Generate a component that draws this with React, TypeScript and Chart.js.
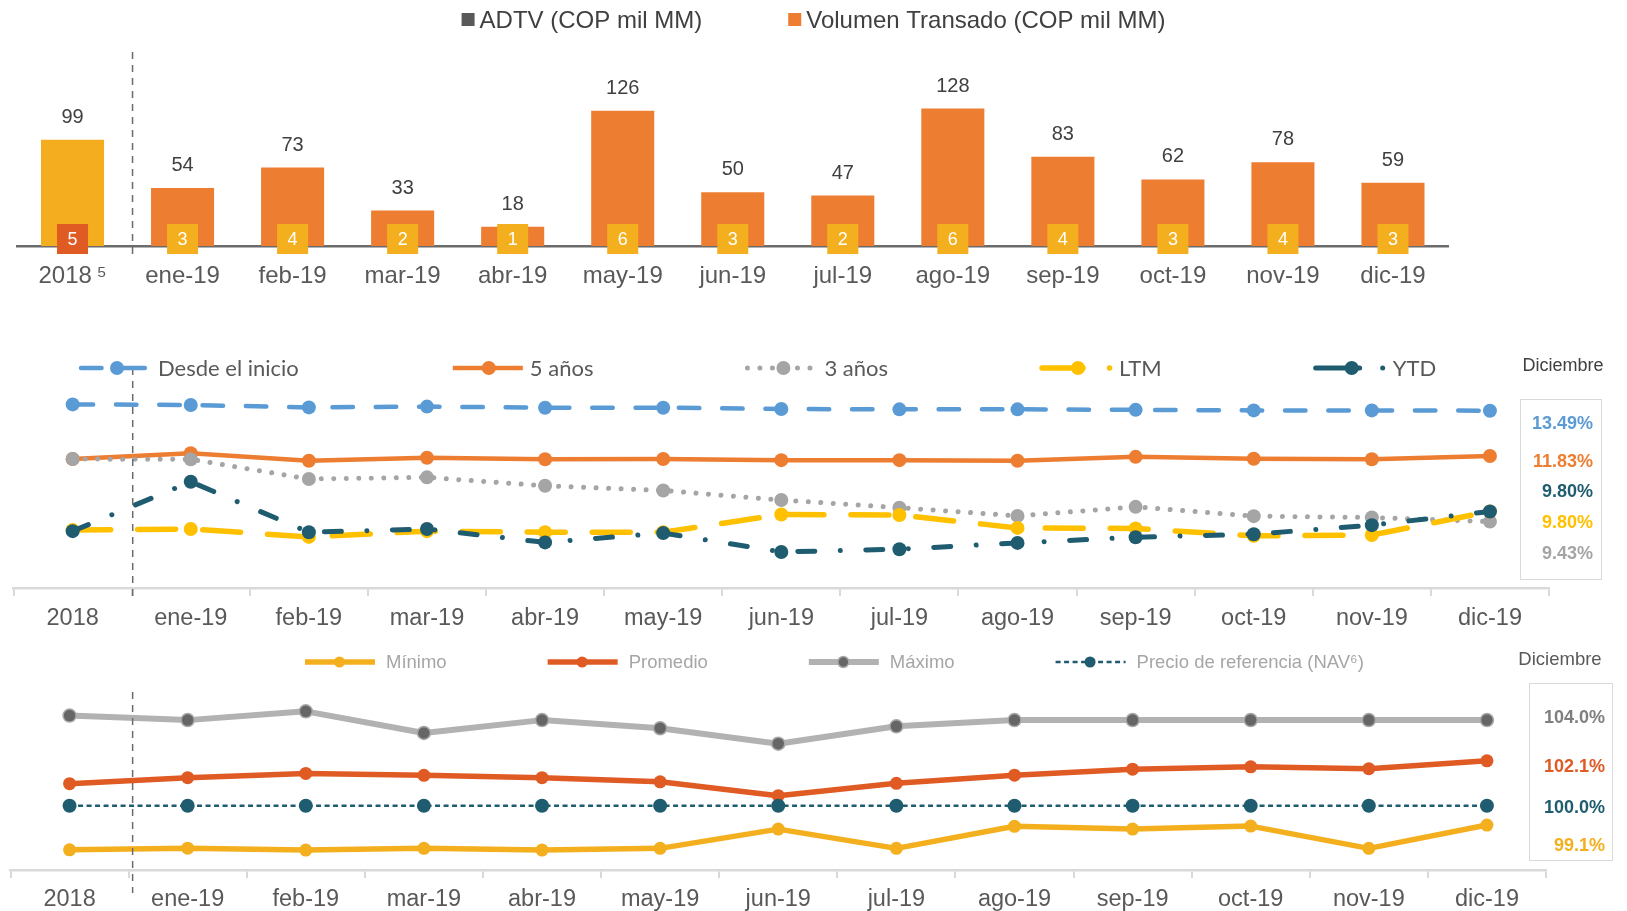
import React, { useEffect, useRef } from "react";
import { Chart, registerables } from "chart.js";

Chart.register(...registerables);

// ---------- DATA ----------
const categories = ["2018", "ene-19", "feb-19", "mar-19", "abr-19", "may-19", "jun-19", "jul-19", "ago-19", "sep-19", "oct-19", "nov-19", "dic-19"];

const adtvLabel = "ADTV (COP mil MM)";
const volumenLabel = "Volumen Transado (COP mil MM)";
const volumen = [99, 54, 73, 33, 18, 126, 50, 47, 128, 83, 62, 78, 59];
const adtv = [5, 3, 4, 2, 1, 6, 3, 2, 6, 4, 3, 4, 3];

const desdeInicio = [13.72, 13.7, 13.61, 13.64, 13.6, 13.6, 13.55, 13.54, 13.54, 13.52, 13.5, 13.5, 13.49];
const cincoAnos = [11.72, 11.93, 11.66, 11.77, 11.71, 11.72, 11.68, 11.68, 11.66, 11.8, 11.73, 11.71, 11.83];
const tresAnos = [11.72, 11.71, 10.99, 11.05, 10.74, 10.57, 10.22, 9.94, 9.64, 9.97, 9.63, 9.58, 9.43];
const ltm = [9.12, 9.16, 8.87, 9.08, 9.04, 9.04, 9.69, 9.67, 9.2, 9.18, 8.91, 8.94, 9.8];
const ytd = [9.08, 10.89, 9.04, 9.16, 8.67, 9.01, 8.32, 8.42, 8.65, 8.86, 8.97, 9.3, 9.8];

const minimo = [97.94, 98.02, 97.93, 98.01, 97.93, 98.01, 98.91, 98.01, 99.04, 98.91, 99.05, 98.01, 99.1];
const promedio = [101.03, 101.31, 101.51, 101.42, 101.31, 101.12, 100.47, 101.05, 101.43, 101.71, 101.82, 101.73, 102.1];
const maximo = [104.21, 104.0, 104.41, 103.4, 104.0, 103.62, 102.9, 103.71, 104.0, 104.0, 104.0, 104.0, 104.0];
const nav = [100, 100, 100, 100, 100, 100, 100, 100, 100, 100, 100, 100, 100];

// ---------- STYLE ----------
const ARIAL = '"Liberation Sans", Arial, sans-serif';
const LATO = 'Lato, "Open Sans", sans-serif';
const W = 1627;

// ---------- PLUGINS ----------
const separatorPlugin: any = {
  id: "separator",
  afterDatasetsDraw(chart: any, _a: any, opts: any) {
    if (!opts || opts.top == null) return;
    const x = chart.scales.x;
    const px = (x.getPixelForValue(0) + x.getPixelForValue(1)) / 2 + (opts.dx || 0);
    const ctx = chart.ctx;
    ctx.save();
    ctx.strokeStyle = "#6B6B6B";
    ctx.lineWidth = 1.5;
    ctx.setLineDash([7, 6]);
    ctx.beginPath();
    ctx.moveTo(px, opts.top);
    ctx.lineTo(px, opts.bottom);
    ctx.stroke();
    ctx.restore();
  },
};

const barBadgesPlugin: any = {
  id: "barBadges",
  afterDatasetsDraw(chart: any) {
    const ctx = chart.ctx;
    const meta = chart.getDatasetMeta(0);
    const vals = chart.data.datasets[0].data;
    const badges = chart.data.datasets[1].data;
    const base = chart.scales.y.getPixelForValue(0);
    ctx.save();
    meta.data.forEach((bar: any, i: number) => {
      ctx.textAlign = "center";
      ctx.textBaseline = "middle";
      ctx.fillStyle = "#404040";
      ctx.font = `20px ${ARIAL}`;
      ctx.fillText(String(vals[i]), bar.x, bar.y - 22.5);
      const cy = base - 7;
      ctx.fillStyle = i === 0 ? "#E05A24" : "#F4AF1E";
      ctx.fillRect(bar.x - 15.5, cy - 15, 31, 30);
      ctx.fillStyle = "#FFFFFF";
      ctx.font = `18px ${ARIAL}`;
      ctx.fillText(String(badges[i]), bar.x, cy + 1);
    });
    ctx.restore();
  },
};

const squareLegendPlugin: any = {
  id: "squareLegend",
  afterDraw(chart: any, _a: any, opts: any) {
    const ctx = chart.ctx;
    const ds = opts.order.map((i: number) => chart.data.datasets[i]);
    ctx.save();
    ctx.font = `24px ${ARIAL}`;
    const box = 13;
    const gapText = 5;
    const gapItem = 86;
    const widths = ds.map((d: any) => box + gapText + ctx.measureText(d.label).width);
    const total = widths.reduce((a: number, b: number) => a + b, 0) + gapItem * (ds.length - 1);
    let x = chart.width / 2 - total / 2;
    ds.forEach((d: any, i: number) => {
      ctx.fillStyle = d.legendColor;
      ctx.fillRect(x, opts.y - 7, box, box);
      ctx.fillStyle = "#404040";
      ctx.textAlign = "left";
      ctx.textBaseline = "middle";
      ctx.fillText(d.label, x + box + gapText, opts.y + 1);
      x += widths[i] + gapItem;
    });
    ctx.restore();
  },
};

const lineLegendPlugin: any = {
  id: "lineLegend",
  afterDraw(chart: any, _a: any, o: any) {
    const ctx = chart.ctx;
    let x = o.x0;
    const y = o.y;
    chart.data.datasets.forEach((d: any) => {
      ctx.save();
      ctx.strokeStyle = d.borderColor;
      ctx.lineWidth = d.legendLineWidth || d.borderWidth;
      ctx.lineCap = d.borderCapStyle || "butt";
      ctx.setLineDash(d.legendDash || d.borderDash || []);
      ctx.beginPath();
      ctx.moveTo(x, y);
      ctx.lineTo(x + o.symbolWidth, y);
      ctx.stroke();
      ctx.setLineDash([]);
      ctx.beginPath();
      ctx.arc(x + o.markerAt, y, o.markerRadius || d.pointRadius, 0, Math.PI * 2);
      ctx.fillStyle = d.pointBackgroundColor;
      ctx.fill();
      if (d.pointBorderWidth) {
        ctx.strokeStyle = d.pointBorderColor;
        ctx.lineWidth = d.pointBorderWidth;
        ctx.stroke();
      }
      ctx.font = o.font;
      ctx.fillStyle = o.color;
      ctx.textAlign = "left";
      ctx.textBaseline = "middle";
      ctx.fillText(d.label, x + o.textOffset, y + 1);
      x += o.textOffset + ctx.measureText(d.label).width + o.gap;
      ctx.restore();
    });
  },
};

// ---------- CONFIGS ----------
const base: any = {
  responsive: false,
  animation: false,
  devicePixelRatio: 1,
  events: [],
};

function topConfig(): any {
  return {
    type: "bar",
    data: {
      labels: categories,
      datasets: [
        {
          label: volumenLabel,
          data: volumen,
          backgroundColor: categories.map((_, i) => (i === 0 ? "#F3AD1F" : "#ED7D31")),
          legendColor: "#ED7D31",
          categoryPercentage: 1,
          barPercentage: 0.573,
        },
        {
          label: adtvLabel,
          data: adtv,
          hidden: true,
          backgroundColor: "#F4AF1E",
          legendColor: "#595959",
        },
      ],
    },
    options: {
      ...base,
      layout: { padding: { left: 17.5, right: W - 1448, top: 43, bottom: 0 } },
      plugins: {
        legend: { display: false },
        tooltip: { enabled: false },
        squareLegend: { order: [1, 0], y: 20 },
        separator: { top: 52, bottom: 255, dx: 5 },
      },
      scales: {
        x: {
          grid: { display: false, drawTicks: false },
          border: { display: true, color: "#6B6B6B", width: 2.5 },
          ticks: {
            color: "#595959",
            font: { family: ARIAL, size: 24 },
            padding: 15.6,
            autoSkip: false,
            maxRotation: 0,
            callback: (_v: any, i: number) => (i === 0 ? categories[0] + "\u2009\u2075" : categories[i]),
          },
          afterFit: (s: any) => {
            s.height = 54;
          },
        },
        y: { display: false, min: 0, max: 189 },
      },
    },
    plugins: [barBadgesPlugin, squareLegendPlugin, separatorPlugin],
  };
}

function axisX(padding: number, height: number): any {
  return {
    offset: true,
    grid: { offset: true, drawOnChartArea: false, drawTicks: true, tickLength: 8, color: "#D9D9D9", lineWidth: 2 },
    border: { display: true, color: "#D9D9D9", width: 2.5 },
    ticks: { color: "#595959", font: { family: ARIAL, size: 23.5 }, padding, autoSkip: false, maxRotation: 0 },
    afterFit: (s: any) => {
      s.height = height;
    },
  };
}

const lineBase = { fill: false, tension: 0, borderJoinStyle: "round", pointBorderWidth: 0, pointStyle: "circle" };

function midConfig(): any {
  return {
    type: "line",
    data: {
      labels: categories,
      datasets: [
        { ...lineBase, label: "Desde el inicio", data: desdeInicio, borderColor: "#5B9BD5", backgroundColor: "#5B9BD5", borderWidth: 4.5, borderDash: [20.5, 22.8], borderCapStyle: "round", pointRadius: 7, pointBackgroundColor: "#5B9BD5", order: 5 },
        { ...lineBase, label: "5 años", data: cincoAnos, borderColor: "#ED7D31", backgroundColor: "#ED7D31", borderWidth: 4.5, pointRadius: 7, pointBackgroundColor: "#ED7D31", order: 4 },
        { ...lineBase, label: "3 años", data: tresAnos, borderColor: "#A5A5A5", backgroundColor: "#A5A5A5", borderWidth: 5, borderDash: [0.01, 12.5], borderCapStyle: "round", pointRadius: 7, pointBackgroundColor: "#A5A5A5", order: 3 },
        { ...lineBase, label: "LTM", data: ltm, borderColor: "#FFC000", backgroundColor: "#FFC000", borderWidth: 5.5, borderDash: [38, 27], legendDash: [41, 26.5, 0.01, 30], borderCapStyle: "round", pointRadius: 7, pointBackgroundColor: "#FFC000", order: 2 },
        { ...lineBase, label: "YTD", data: ytd, borderColor: "#1F5C70", backgroundColor: "#1F5C70", borderWidth: 5, borderDash: [17, 25.5, 0.01, 25.5], legendDash: [44, 23, 0.01, 20], borderCapStyle: "round", pointRadius: 7, pointBackgroundColor: "#1F5C70", order: 1 },
      ],
    },
    options: {
      ...base,
      layout: { padding: { left: 13.6, right: W - 1549, top: 53.1, bottom: 0 } },
      plugins: {
        legend: { display: false },
        tooltip: { enabled: false },
        lineLegend: { x0: 81, y: 38, symbolWidth: 70, markerAt: 36, textOffset: 77, gap: 154, font: `22px ${LATO}`, color: "#595959" },
        separator: { top: 38, bottom: 272, dx: 1 },
      },
      scales: { x: axisX(8.6, 42), y: { display: false, min: 7, max: 14.5 } },
    },
    plugins: [lineLegendPlugin, separatorPlugin],
  };
}

function botConfig(): any {
  return {
    type: "line",
    data: {
      labels: categories,
      datasets: [
        { ...lineBase, label: "Mínimo", data: minimo, borderColor: "#F4AF1E", backgroundColor: "#F4AF1E", borderWidth: 5.5, pointRadius: 6.5, pointBackgroundColor: "#F4AF1E", order: 4 },
        { ...lineBase, label: "Promedio", data: promedio, borderColor: "#E05A24", backgroundColor: "#E05A24", borderWidth: 5.5, pointRadius: 6.5, pointBackgroundColor: "#E05A24", order: 3 },
        { ...lineBase, label: "Máximo", data: maximo, borderColor: "#B2B2B2", backgroundColor: "#B2B2B2", borderWidth: 6, pointRadius: 6.5, pointBackgroundColor: "#666666", pointBorderColor: "#A9A9A9", pointBorderWidth: 1.5, order: 2 },
        { ...lineBase, label: "Precio de referencia (NAV\u2076)", data: nav, borderColor: "#1F5C70", backgroundColor: "#1F5C70", borderWidth: 2.5, borderDash: [5, 3.5], pointRadius: 7, pointBackgroundColor: "#1F5C70", order: 1 },
      ],
    },
    options: {
      ...base,
      layout: { padding: { left: 10.5, right: W - 1546, top: 58, bottom: 0 } },
      plugins: {
        legend: { display: false },
        tooltip: { enabled: false },
        lineLegend: { x0: 305, y: 32, symbolWidth: 70, markerAt: 34.5, textOffset: 81, gap: 101, font: `18.5px ${ARIAL}`, color: "#A6A6A6", markerRadius: 5.5 },
        separator: { top: 62, bottom: 263, dx: 4 },
      },
      scales: { x: axisX(7.6, 41), y: { display: false, min: 97, max: 105.5 } },
    },
    plugins: [lineLegendPlugin, separatorPlugin],
  };
}

// ---------- SIDE BOXES ----------
const last = (a: number[]) => a[a.length - 1];

const midBox = [
  { v: last(desdeInicio), c: "#5B9BD5", y: 423.3 },
  { v: last(cincoAnos), c: "#ED7D31", y: 461 },
  { v: last(ytd), c: "#1F5C70", y: 490.7 },
  { v: last(ltm), c: "#FFC000", y: 521.7 },
  { v: last(tresAnos), c: "#A5A5A5", y: 552.7 },
];
const botBox = [
  { v: last(maximo), c: "#7F7F7F", y: 717.3 },
  { v: last(promedio), c: "#E05A24", y: 765.7 },
  { v: last(nav), c: "#1F5C70", y: 806.7 },
  { v: last(minimo), c: "#F4AF1E", y: 845 },
];

export default function App() {
  const topRef = useRef<HTMLCanvasElement>(null);
  const midRef = useRef<HTMLCanvasElement>(null);
  const botRef = useRef<HTMLCanvasElement>(null);

  useEffect(() => {
    const charts = [
      new Chart(topRef.current as any, topConfig()),
      new Chart(midRef.current as any, midConfig()),
      new Chart(botRef.current as any, botConfig()),
    ];
    return () => charts.forEach((c) => c.destroy());
  }, []);

  const abs = (left: number, top: number, width: number, height: number): any => ({ position: "absolute", left, top, width, height });

  return (
    <div style={{ position: "fixed", left: 0, top: 0, width: W, height: 911, background: "#fff", overflow: "hidden", fontFamily: ARIAL }}>
      <canvas ref={topRef} width={W} height={300} style={abs(0, 0, W, 300)} />
      <canvas ref={midRef} width={W} height={300} style={abs(0, 330, W, 300)} />
      <canvas ref={botRef} width={W} height={281} style={abs(0, 630, W, 281)} />

      <div style={{ ...abs(1563 - 60, 365 - 11, 120, 22), textAlign: "center", fontSize: 18, lineHeight: "22px", color: "#404040" }}>Diciembre</div>
      <div style={{ ...abs(1520, 399, 82, 181), border: "1.5px solid #D9D9D9", boxSizing: "border-box" }} />
      {midBox.map((b, i) => (
        <div key={"m" + i} style={{ position: "absolute", right: W - 1593, top: b.y - 11, lineHeight: "22px", fontSize: 18, fontWeight: "bold", color: b.c, textAlign: "right" }}>
          {b.v.toFixed(2) + "%"}
        </div>
      ))}

      <div style={{ ...abs(1560 - 60, 659 - 11, 120, 22), textAlign: "center", fontSize: 18.5, lineHeight: "22px", color: "#595959" }}>Diciembre</div>
      <div style={{ ...abs(1529, 683, 84, 178), border: "1.5px solid #D9D9D9", boxSizing: "border-box" }} />
      {botBox.map((b, i) => (
        <div key={"b" + i} style={{ position: "absolute", right: W - 1605, top: b.y - 11, lineHeight: "22px", fontSize: 18, fontWeight: "bold", color: b.c, textAlign: "right" }}>
          {b.v.toFixed(1) + "%"}
        </div>
      ))}
    </div>
  );
}
